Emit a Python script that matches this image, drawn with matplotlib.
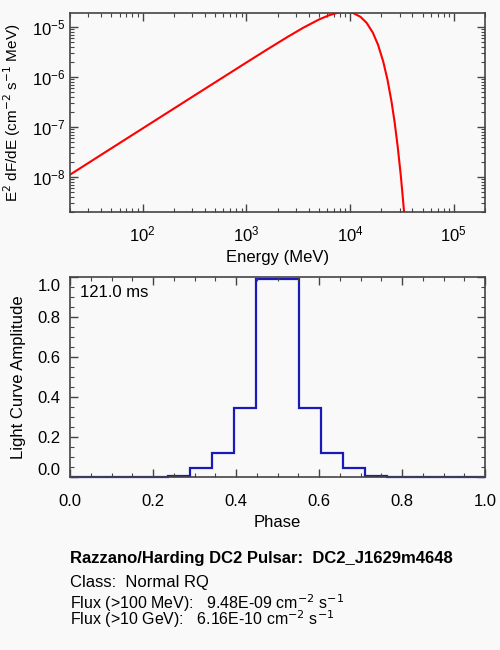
import numpy as np
import matplotlib
matplotlib.use("Agg")
import matplotlib.pyplot as plt
import matplotlib.transforms as mtransforms
from matplotlib.ticker import AutoMinorLocator, LogLocator, NullFormatter

plt.rcParams['font.family'] = ['Liberation Sans', 'DejaVu Sans']
plt.rcParams['font.size'] = 12

# spectrum (MeV, E^2 dF/dE)
energy = [20, 39.8, 100, 316, 1000, 1585, 2512, 3548, 5012, 6310, 7586, 9016,
          10720, 12590, 14450, 16600, 18620, 20890, 22910, 25120, 26920,
          28840, 30900, 33110, 34670]
e2dfde = [1.109e-8, 2.76e-8, 9.31e-8, 4.25e-7, 1.936e-6, 3.53e-6, 6.35e-6,
          9.66e-6, 1.406e-5, 1.718e-5, 1.919e-5, 1.995e-5, 1.895e-5, 1.597e-5,
          1.208e-5, 7.67e-6, 4.40e-6, 2.034e-6, 9.02e-7, 3.21e-7, 1.236e-7,
          3.97e-8, 1.042e-8, 2.13e-9, 6.28e-10]

# light curve (bin edges in phase, amplitude per bin)
phase_edges = [0.0, 0.237, 0.289, 0.342, 0.395, 0.447, 0.553, 0.605, 0.658,
               0.711, 0.763, 1.0]
amplitude = [0.0, 0.007, 0.043, 0.122, 0.344, 0.99, 0.344, 0.122, 0.043,
             0.007, 0.0]

period_text = "121.0 ms"
info_lines = ["Razzano/Harding DC2 Pulsar:  DC2_J1629m4648",
              "Class:  Normal RQ",
              "Flux (>100 MeV):   9.48E-09 cm$^{-2}$ s$^{-1}$",
              "Flux (>10 GeV):   6.16E-10 cm$^{-2}$ s$^{-1}$"]

bg = '#f9f9f9'
axcol = '#444444'

fig = plt.figure(figsize=(5, 6.5), dpi=100, facecolor=bg)


def style(ax):
    ax.set_facecolor(bg)
    for s in ax.spines.values():
        s.set_color(axcol)
        s.set_linewidth(1.2)
    ax.tick_params(which='both', direction='in', top=True, right=True,
                   colors=axcol, labelcolor='black')
    ax.tick_params(which='major', length=6, width=1)
    ax.tick_params(which='minor', length=3, width=0.8)


ax1 = fig.add_axes([0.14, 0.674, 0.83, 0.306])
style(ax1)
ax1.loglog(energy, e2dfde, color='#ff0000', lw=1.5)
ax1.set_xlim(20, 2e5)
ax1.set_ylim(2e-9, 1.9e-5)
ax1.yaxis.set_major_locator(LogLocator(base=10, numticks=10))
ax1.yaxis.set_minor_locator(LogLocator(base=10, subs=np.arange(2, 10), numticks=10))
ax1.yaxis.set_minor_formatter(NullFormatter())
ax1.xaxis.set_minor_formatter(NullFormatter())
ax1.tick_params(axis='x', pad=9)
ax1.tick_params(axis='y', pad=3)
ax1.set_xlabel("Energy (MeV)")
ax1.xaxis.set_label_coords(0.5, -0.19)
ax1.set_ylabel("E$^2$ dF/dE (cm$^{-2}$ s$^{-1}$ MeV)", fontsize=11)
ax1.yaxis.set_label_coords(-0.114, 0.5)

ax2 = fig.add_axes([0.14, 0.266, 0.83, 0.308])
style(ax2)
ax2.stairs(amplitude, phase_edges, color='#1a1ab8', lw=1.6, clip_on=False)
ax2.set_xlim(0, 1)
ax2.set_ylim(0, 1.0)
ax2.set_xticks(np.arange(0, 1.01, 0.2))
ax2.set_yticks(np.arange(0, 1.01, 0.2))
ax2.xaxis.set_minor_locator(AutoMinorLocator(4))
ax2.yaxis.set_minor_locator(AutoMinorLocator(4))
ax2.tick_params(axis='x', pad=12)
ax2.tick_params(axis='y', pad=7)
ax2.set_xlabel("Phase")
ax2.xaxis.set_label_coords(0.5, -0.19)
ax2.set_ylabel("Light Curve Amplitude")
ax2.yaxis.set_label_coords(-0.106, 0.5)
ax2.text(0.025, 0.92, period_text, transform=ax2.transAxes, va='center')

# end labels sit inside the axis range, like the original
ylabels = ax2.yaxis.get_majorticklabels()
ylabels[0].set_transform(ylabels[0].get_transform() +
                         mtransforms.ScaledTranslation(0, 8 / 100, fig.dpi_scale_trans))
ylabels[-1].set_transform(ylabels[-1].get_transform() +
                          mtransforms.ScaledTranslation(0, -8 / 100, fig.dpi_scale_trans))

baselines = [562.5, 587.5, 609.5, 625.0]
sizes = [12, 12, 11.5, 11.5]
for i, line in enumerate(info_lines):
    fig.text(0.14, 1 - baselines[i] / 650, line, va='baseline', fontsize=sizes[i],
             fontweight='bold' if i == 0 else 'normal')

fig.savefig("out.png", dpi=100, facecolor=bg)
